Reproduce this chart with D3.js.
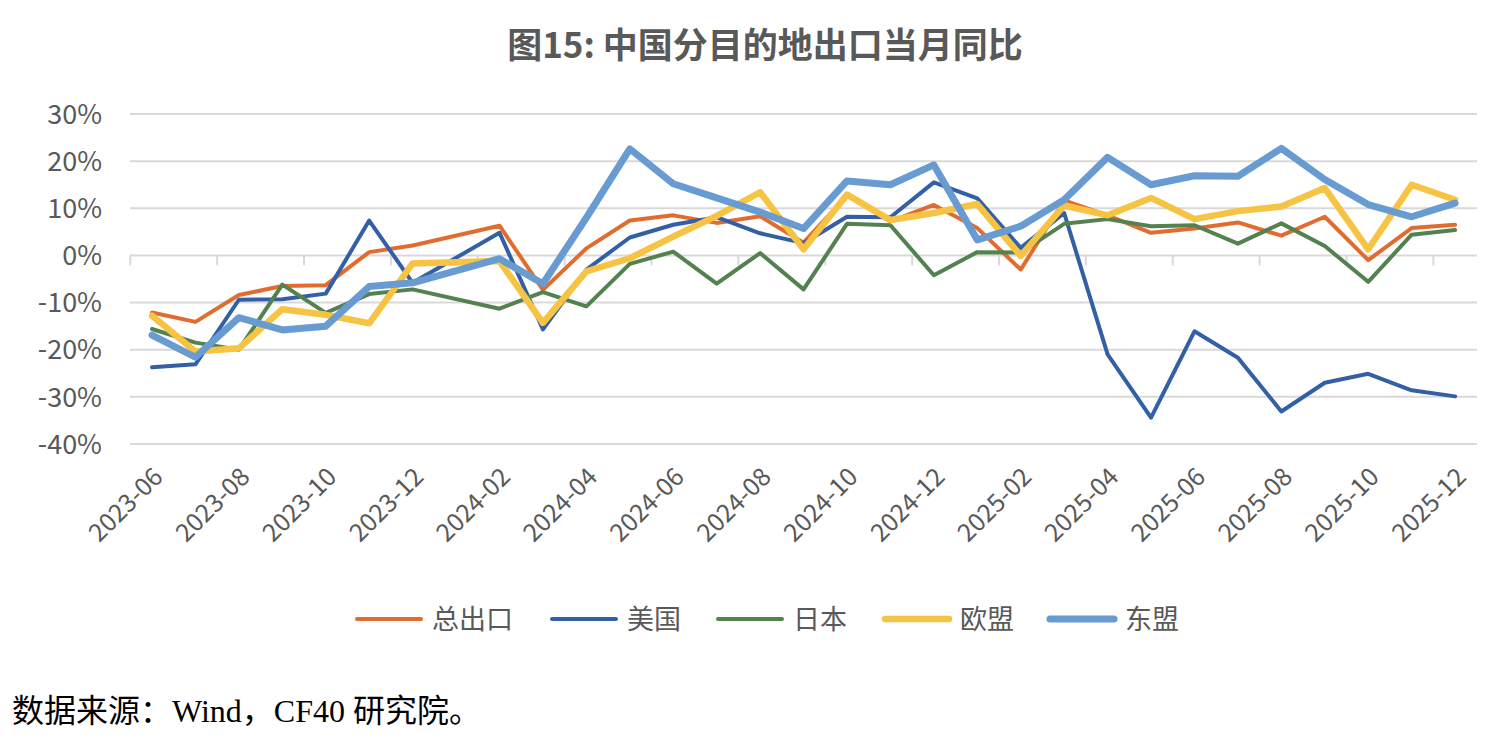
<!DOCTYPE html>
<html>
<head>
<meta charset="utf-8">
<script src="https://cdn.jsdelivr.net/npm/d3@7"></script>
<style>
  body { margin: 0; background: #fff; }
  svg { display: block; }
</style>
</head>
<body>
<div id="chartArea"></div>
<script>
// categories
var months = ['2023-06','2023-07','2023-08','2023-09','2023-10','2023-11','2023-12',
              '2024-01','2024-02','2024-03','2024-04','2024-05','2024-06','2024-07',
              '2024-08','2024-09','2024-10','2024-11','2024-12','2025-01','2025-02',
              '2025-03','2025-04','2025-05','2025-06','2025-07','2025-08','2025-09',
              '2025-10','2025-11','2025-12'];

// series values, % yoy (2024-01 not reported -> null)
var totalExport = [-12.1,-14.1,-8.4,-6.5,-6.3,0.7,2.1,null,6.3,-7.3,1.5,7.4,8.5,6.9,
                   8.3,2.7,12.7,7.2,10.7,5.8,-3.0,11.7,8.5,4.8,5.7,7.0,4.2,8.2,-1.0,5.8,6.5];
var usa = [-23.7,-23.1,-9.4,-9.3,-8.1,7.4,-5.8,null,4.8,-15.7,-3.0,3.8,6.5,8.1,
           4.7,2.6,8.2,8.1,15.5,12.1,1.6,9.0,-21.0,-34.4,-16.1,-21.7,-33.1,-27.0,-25.1,-28.6,-29.9];
var japan = [-15.6,-18.5,-20.0,-6.2,-12.2,-8.2,-7.2,null,-11.3,-7.8,-10.8,-1.8,0.8,-6.0,
             0.5,-7.2,6.7,6.4,-4.2,0.7,0.6,6.7,7.7,6.2,6.4,2.5,6.8,2.0,-5.6,4.4,5.4];
var eu = [-12.8,-20.4,-19.7,-11.4,-12.6,-14.4,-1.7,null,-1.2,-14.3,-3.4,-0.6,4.0,8.4,
          13.4,1.3,12.9,7.5,9.0,10.9,-0.1,10.6,8.5,12.2,7.7,9.4,10.4,14.3,1.3,15.0,11.8];
var asean = [-16.9,-21.6,-13.2,-15.8,-15.0,-6.6,-5.8,null,-0.7,-6.0,8.0,22.6,15.2,12.2,
             9.2,5.7,15.8,15.0,19.2,3.3,6.2,11.8,20.8,15.0,16.9,16.8,22.7,16.1,10.8,8.2,11.1];

var seriesNames = ['总出口','美国','日本','欧盟','东盟'];
var yTicks = [30, 20, 10, 0, -10, -20, -30, -40];

var init = init();
drawGrid(init);
drawAxisText(init);
drawSeries(init);
drawLegend(init);
drawTexts(init);

function init(){
	var width = 1490, height = 746;
	var svg = d3.select('#chartArea').append('svg').attr('width', width).attr('height', height);

	var x = d3.scaleBand().domain(months).range([130.3, 1476.8]);
	var y = d3.scaleLinear().domain([-40, 30]).range([444, 114]);

	return {
		svg : svg,
		x : x,
		y : y,
		cx : function(m){ return x(m) + x.bandwidth()/2; },
		styles : [
			{ color : '#E06D2F', w : 4 },
			{ color : '#335FA6', w : 4 },
			{ color : '#53814F', w : 4 },
			{ color : '#F6C343', w : 6.5 },
			{ color : '#699BD3', w : 7 }
		]
	};
}

function drawGrid(init){
	var g = init.svg.append('g').attr('class', 'grid');
	g.selectAll('line').data(yTicks).enter().append('line')
		.attr('x1', 130).attr('x2', 1477)
		.attr('y1', function(d){ return init.y(d); })
		.attr('y2', function(d){ return init.y(d); })
		.attr('stroke', '#d9d9d9').attr('stroke-width', 2);

	// category ticks on the zero line, every 2 months
	var tickMonths = months.filter(function(d, i){ return i % 2 == 0; });
	g.selectAll('.tick').data(tickMonths).enter().append('line')
		.attr('class', 'tick')
		.attr('x1', function(d){ return init.x(d); })
		.attr('x2', function(d){ return init.x(d); })
		.attr('y1', init.y(0)).attr('y2', init.y(0) + 10)
		.attr('stroke', '#d9d9d9').attr('stroke-width', 2);
}

function drawAxisText(init){
	var font = '"Noto Sans CJK SC", "Noto Sans", sans-serif';
	init.svg.append('g').selectAll('text').data(yTicks).enter().append('text')
		.attr('x', 102)
		.attr('y', function(d){ return init.y(d); })
		.attr('dy', '0.36em')
		.attr('text-anchor', 'end')
		.style('font-family', font).style('font-size', '27px').style('fill', '#595959')
		.text(function(d){ return d + '%'; });

	var labelMonths = months.filter(function(d, i){ return i % 2 == 0; });
	init.svg.append('g').selectAll('text').data(labelMonths).enter().append('text')
		.attr('transform', function(d){
			return 'translate(' + (init.cx(d) + 6) + ',' + 472 + ') rotate(-45)';
		})
		.attr('text-anchor', 'end')
		.attr('dy', '0.36em')
		.style('font-family', font).style('font-size', '25px').style('fill', '#595959')
		.text(function(d){ return d; });
}

function drawSeries(init){
	var all = [totalExport, usa, japan, eu, asean];
	var line = d3.line()
		.x(function(d){ return init.cx(d.m); })
		.y(function(d){ return init.y(d.v); });

	for(var i=0; i<all.length; i++){
		// gaps are bridged, as Excel does for empty cells
		var pts = months.map(function(m, j){ return { m : m, v : all[i][j] }; })
			.filter(function(d){ return d.v != null; });
		init.svg.append('path').datum(pts)
			.attr('d', line)
			.attr('fill', 'none')
			.attr('stroke', init.styles[i].color)
			.attr('stroke-width', init.styles[i].w)
			.attr('stroke-linejoin', 'round')
			.attr('stroke-linecap', 'round');
	}
}

function drawLegend(init){
	var lineX = [357, 552, 718, 885, 1050];
	var g = init.svg.append('g').attr('class', 'legend');
	for(var i=0; i<seriesNames.length; i++){
		g.append('line')
			.attr('x1', lineX[i]).attr('x2', lineX[i] + 64)
			.attr('y1', 619).attr('y2', 619)
			.attr('stroke', init.styles[i].color)
			.attr('stroke-width', init.styles[i].w)
			.attr('stroke-linecap', 'round');
		g.append('text')
			.attr('x', lineX[i] + 75).attr('y', 619).attr('dy', '0.36em')
			.style('font-family', '"Noto Sans CJK SC", sans-serif')
			.style('font-size', '27px').style('fill', '#595959')
			.text(seriesNames[i]);
	}
}

function drawTexts(init){
	init.svg.append('text')
		.attr('x', 765).attr('y', 45).attr('dy', '0.36em')
		.attr('text-anchor', 'middle')
		.style('font-family', '"Noto Sans CJK SC", sans-serif')
		.style('font-weight', 'bold').style('font-size', '35px').style('fill', '#595959')
		.text('图15: 中国分目的地出口当月同比');

	init.svg.append('text')
		.attr('x', 12).attr('y', 710).attr('dy', '0.36em')
		.style('font-family', '"Liberation Serif", "Noto Sans CJK SC", serif')
		.style('font-size', '32px').style('fill', '#000')
		.text('数据来源：Wind，CF40 研究院。');
}
</script>
</body>
</html>
